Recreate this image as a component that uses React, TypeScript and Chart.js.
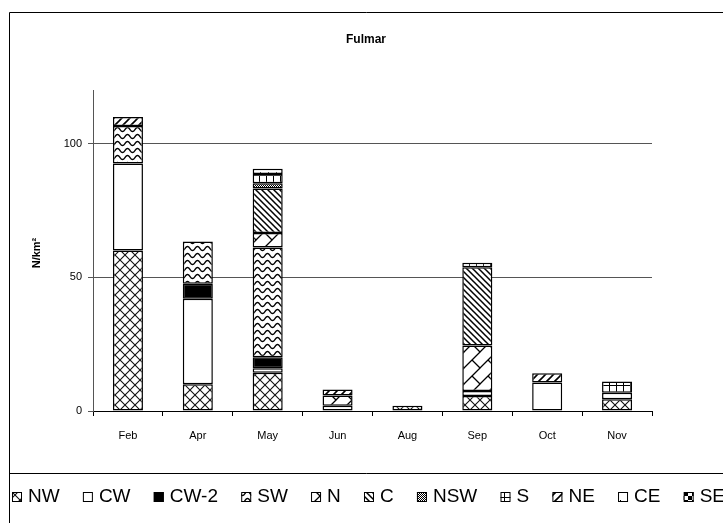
import React, { useEffect, useRef } from "react";
import { Chart, registerables } from "chart.js";
Chart.register(...registerables);

const FONT = '"Liberation Sans", Arial, sans-serif';

const months = ["Feb", "Apr", "May", "Jun", "Aug", "Sep", "Oct", "Nov"];
const seriesNames = ["NW", "CW", "CW-2", "SW", "N", "C", "NSW", "S", "NE", "CE", "SE"];

const NW = [60, 10, 14.3, null, 2, 5.6, null, 4.4];
const CW = [32.5, 32, 1.7, 2, null, 1.9, 10.7, 2.4];
const CW2 = [null, 5.6, 4.1, null, null, null, null, null];
const SW = [14, 15.8, 41, null, null, null, null, null];
const N = [null, null, 5.4, 3.8, null, 17, null, null];
const C = [null, null, 16.7, null, null, 29.2, null, null];
const NSW = [null, null, 1.9, null, null, null, null, null];
const S = [null, null, 3.5, null, null, 1.7, null, 4.2];
const NE = [3.4, null, null, 2.2, null, null, 3.4, null];
const CE = [null, null, 2, null, null, null, null, null];
const SE = [null, null, null, null, null, null, null, null];

const seriesData = [NW, CW, CW2, SW, N, C, NSW, S, NE, CE, SE];

const yTickValues = [0, 50, 100];
const yMax = 120;
const chartTitle = "Fulmar";
const yTitle = "N/km²";

function tile(w: number, h: number, draw: (g: CanvasRenderingContext2D) => void) {
  const c = document.createElement("canvas");
  c.width = w;
  c.height = h;
  const g = c.getContext("2d")!;
  g.fillStyle = "#fff";
  g.fillRect(0, 0, w, h);
  g.strokeStyle = "#000";
  g.fillStyle = "#000";
  draw(g);
  return c;
}

function makePatterns(ctx: CanvasRenderingContext2D): (CanvasPattern | string)[] {
  const pat = (c: HTMLCanvasElement) => ctx.createPattern(c, "repeat")!;
  const crosshatch = tile(10, 10, (g) => {
    g.strokeStyle = "#111";
    g.lineWidth = 1.1;
    g.beginPath();
    g.moveTo(0, 0); g.lineTo(10, 10);
    g.moveTo(10, 0); g.lineTo(0, 10);
    g.stroke();
  });
  const wave = tile(10, 7, (g) => {
    g.lineWidth = 1.4;
    g.beginPath();
    for (let x = -1; x <= 11; x += 0.5) {
      const y = 3.5 + 2 * Math.sin((2 * Math.PI * x) / 10);
      if (x === -1) g.moveTo(x, y); else g.lineTo(x, y);
    }
    g.stroke();
  });
  const brick = tile(16, 16, (g) => {
    g.lineWidth = 1.3;
    g.beginPath();
    g.moveTo(-1, 17); g.lineTo(17, -1);
    g.moveTo(8, 8); g.lineTo(16, 16);
    g.moveTo(0, 0); g.lineTo(0.5, 0.5);
    g.stroke();
  });
  const back = tile(6, 6, (g) => {
    g.lineWidth = 1.5;
    g.beginPath();
    g.moveTo(-1, -1); g.lineTo(7, 7);
    g.moveTo(5, -1); g.lineTo(7, 1);
    g.moveTo(-1, 5); g.lineTo(1, 7);
    g.stroke();
  });
  const dots = tile(2, 2, (g) => {
    g.fillRect(0, 0, 1, 1);
    g.fillRect(1, 1, 1, 1);
  });
  const grid = tile(7, 7, (g) => {
    g.fillRect(0, 0, 7, 1);
    g.fillRect(0, 0, 1, 7);
  });
  const fwd = tile(8, 8, (g) => {
    g.lineWidth = 1.6;
    g.beginPath();
    g.moveTo(-1, 9); g.lineTo(9, -1);
    g.moveTo(-1, 1); g.lineTo(1, -1);
    g.moveTo(7, 9); g.lineTo(9, 7);
    g.stroke();
  });
  const dot = tile(8, 8, (g) => {
    g.fillRect(4, 4, 1, 1);
  });
  const checker = tile(8, 8, (g) => {
    g.fillRect(0, 0, 4, 4);
    g.fillRect(4, 4, 4, 4);
  });
  return [pat(crosshatch), "#ffffff", "#000000", pat(wave), pat(brick), pat(back), pat(dots), pat(grid), pat(fwd), pat(dot), pat(checker)];
}

export default function App() {
  const ref = useRef<HTMLCanvasElement>(null);
  useEffect(() => {
    const canvas = ref.current!;
    const ctx0 = canvas.getContext("2d")!;
    const patterns = makePatterns(ctx0);

    const datasets = seriesNames.map((name, i) => ({
      label: name,
      data: seriesData[i],
      backgroundColor: patterns[i],
      borderColor: "#000",
      borderWidth: 1.5,
      borderSkipped: false,
      categoryPercentage: 1,
      barPercentage: 0.43,
    }));

    const decor = {
      id: "decor",
      afterDraw(chart: any) {
        const ctx: CanvasRenderingContext2D = chart.ctx;
        ctx.save();
        ctx.strokeStyle = "#000";
        ctx.lineWidth = 1;
        ctx.beginPath();
        ctx.moveTo(9.5, 523);
        ctx.lineTo(9.5, 12.5);
        ctx.lineTo(723, 12.5);
        ctx.moveTo(9.5, 473.5);
        ctx.lineTo(723, 473.5);
        ctx.stroke();

        ctx.fillStyle = "#000";
        ctx.textAlign = "center";
        ctx.textBaseline = "middle";
        ctx.font = `bold 12px ${FONT}`;
        ctx.fillText(chartTitle, 366, 40);

        ctx.save();
        ctx.translate(37, 253);
        ctx.rotate(-Math.PI / 2);
        ctx.font = `bold 11px ${FONT}`;
        ctx.fillText(yTitle, 0, 0);
        ctx.restore();

        ctx.font = `19px ${FONT}`;
        ctx.textAlign = "left";
        const box = 10;
        const g1 = 6;
        const startX = 12;
        const endX = 725;
        let textSum = 0;
        seriesNames.forEach((n) => { textSum += ctx.measureText(n).width; });
        const n = seriesNames.length;
        const g2 = (endX - startX - textSum - n * (box + g1)) / (n - 1);
        let x = startX;
        seriesNames.forEach((name, i) => {
          ctx.fillStyle = patterns[i] as any;
          ctx.fillRect(x, 492, box, box);
          ctx.strokeStyle = "#000";
          ctx.strokeRect(x + 0.5, 492.5, box - 1, box - 1);
          x += box + g1;
          ctx.fillStyle = "#000";
          ctx.fillText(name, x, 497);
          x += ctx.measureText(name).width + g2;
        });
        ctx.restore();
      },
    };

    const chart = new Chart(canvas, {
      type: "bar",
      data: { labels: months, datasets },
      options: {
        animation: false,
        responsive: false,
        devicePixelRatio: 1,
        layout: { padding: { top: 90, left: 0, right: 71, bottom: 82 } },
        plugins: {
          legend: { display: false },
          title: { display: false },
          tooltip: { enabled: false },
        },
        scales: {
          x: {
            stacked: true,
            afterFit: (s: any) => { s.height = 30; },
            grid: {
              offset: true,
              drawOnChartArea: false,
              drawTicks: true,
              tickLength: 5,
              color: "#000",
            },
            border: { color: "#000", width: 1 },
            ticks: { color: "#000", font: { family: FONT, size: 11 }, padding: 13 },
          },
          y: {
            stacked: true,
            min: 0,
            max: yMax,
            afterFit: (s: any) => { s.width = 93; },
            afterBuildTicks: (s: any) => { s.ticks = yTickValues.map((v) => ({ value: v })); },
            grid: { color: "#555", tickLength: 5, drawTicks: true },
            border: { color: "#555", width: 1 },
            ticks: { color: "#000", font: { family: FONT, size: 11 }, padding: 6 },
          },
        },
      },
      plugins: [decor],
    });
    return () => chart.destroy();
  }, []);

  return (
    <canvas
      ref={ref}
      width={723}
      height={523}
      style={{ position: "fixed", left: 0, top: 0, width: 723, height: 523 }}
    />
  );
}
